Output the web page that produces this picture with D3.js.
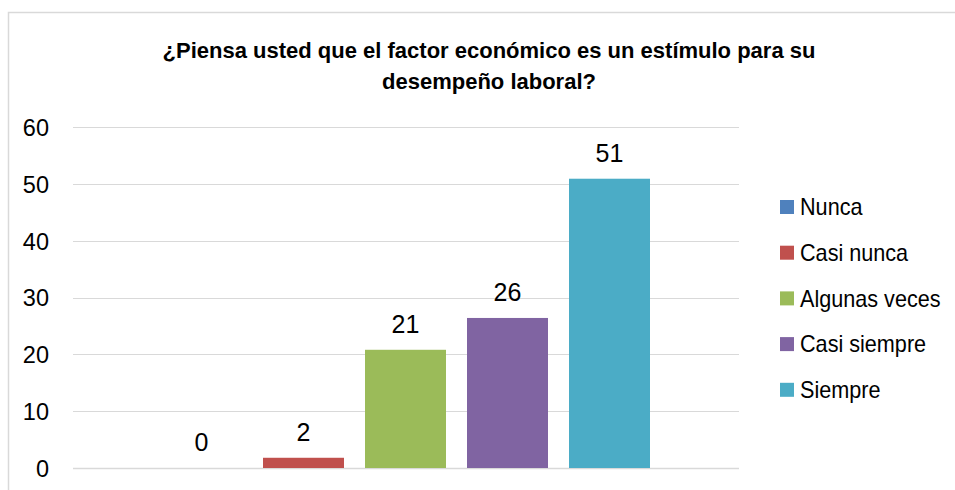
<!DOCTYPE html>
<html>
<head>
<meta charset="utf-8">
<script src="https://cdn.jsdelivr.net/npm/d3@7"></script>
<style>
  html, body { margin: 0; padding: 0; background: #fff; }
  svg { display: block; }
  text { font-family: "Liberation Sans", Arial, sans-serif; fill: #000; }
</style>
</head>
<body>
<svg id="chart" width="955" height="490"></svg>
<script>
const titleLines = ["¿Piensa usted que el factor económico es un estímulo para su", "desempeño laboral?"];
const categories = ["Nunca", "Casi nunca", "Algunas veces", "Casi siempre", "Siempre"];
const values = [0, 1.8, 20.8, 26.4, 50.9];
const colors = ["#4F81BD", "#C0504D", "#9BBB59", "#8064A2", "#4BACC6"];
const yTicks = [0, 10, 20, 30, 40, 50, 60];

const svg = d3.select("#chart");

// chart border
svg.append("rect")
  .attr("x", 8.5).attr("y", 12.5)
  .attr("width", 960).attr("height", 500)
  .attr("fill", "#fff").attr("stroke", "#D9D9D9").attr("stroke-width", 1.5);

const plot = { left: 73, right: 739, top: 127, bottom: 468 };

const y = d3.scaleLinear().domain([0, 60]).range([plot.bottom, plot.top]);
const x = d3.scaleBand().domain(categories).range([150.5, 660.5]).paddingInner(0.206).paddingOuter(0.103);

// title
const title = svg.append("text")
  .attr("text-anchor", "middle")
  .attr("font-weight", "bold")
  .attr("font-size", 22);
title.selectAll("tspan").data(titleLines).join("tspan")
  .attr("x", 489)
  .attr("y", (d, i) => 58 + i * 31)
  .text(d => d);

// gridlines
svg.append("g").selectAll("line").data(yTicks).join("line")
  .attr("x1", plot.left).attr("x2", plot.right)
  .attr("y1", d => Math.round(y(d)) + 0.5).attr("y2", d => Math.round(y(d)) + 0.5)
  .attr("stroke", "#D9D9D9").attr("stroke-width", d => d === 0 ? 1.5 : 1);

// y axis labels
const yAxis = d3.axisLeft(y).tickValues(yTicks).tickSize(0).tickPadding(0);
const gy = svg.append("g").attr("transform", "translate(49,0)").call(yAxis);
gy.select(".domain").remove();
gy.selectAll("text").attr("font-size", 23.5).attr("font-family", null).attr("fill", "#000").attr("dy", "0.36em");

// bars
svg.append("g").selectAll("rect").data(categories).join("rect")
  .attr("x", d => x(d))
  .attr("width", x.bandwidth())
  .attr("y", (d, i) => y(values[i]))
  .attr("height", (d, i) => y(0) - y(values[i]))
  .attr("fill", (d, i) => colors[i]);

// data labels
svg.append("g").selectAll("text").data(categories).join("text")
  .attr("x", d => x(d) + x.bandwidth() / 2)
  .attr("y", (d, i) => y(values[i]) - 17)
  .attr("text-anchor", "middle")
  .attr("font-size", 25)
  .text((d, i) => d3.format(".0f")(values[i]));

// legend
const legend = svg.append("g").selectAll("g").data(categories).join("g")
  .attr("transform", (d, i) => `translate(780,${207 + i * 45.7})`);
legend.append("rect")
  .attr("x", 0).attr("y", -7).attr("width", 14).attr("height", 14)
  .attr("fill", (d, i) => colors[i]);
legend.append("g")
  .attr("transform", "translate(20,0) scale(0.94,1)")
  .append("text")
  .attr("x", 0).attr("y", 0).attr("dy", "0.36em")
  .attr("font-size", 23)
  .text(d => d);
</script>
</body>
</html>
